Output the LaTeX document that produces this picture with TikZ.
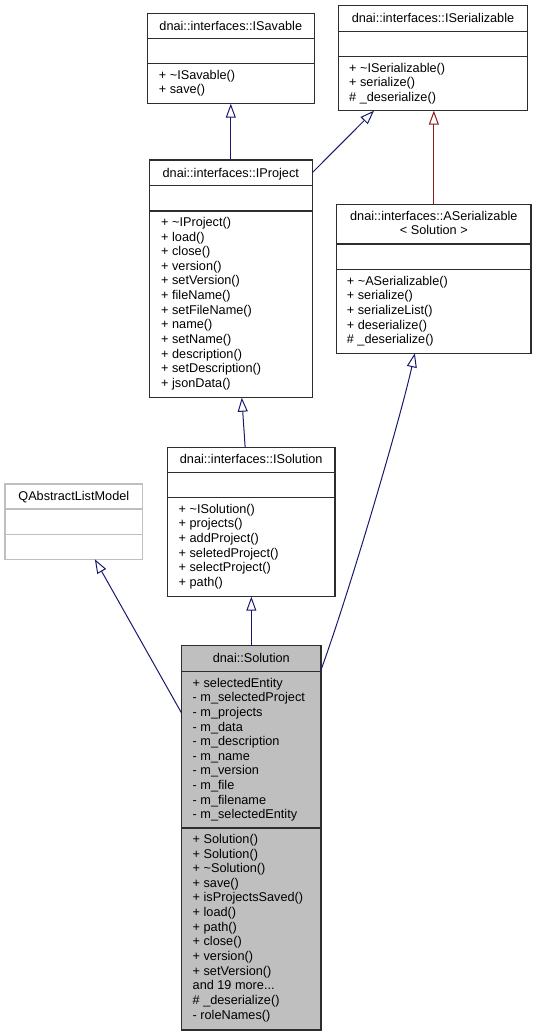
\documentclass[tikz,border=0pt]{standalone}
\usepackage{fontspec}
\setmainfont{Liberation Sans}
\usetikzlibrary{arrows.meta,fit,calc}
\newcommand\clsfont{\fontsize{12.75}{14.7}\selectfont}
\definecolor{edgeblue}{RGB}{25,25,112}
\definecolor{edgered}{RGB}{139,26,26}
\definecolor{grayfill}{RGB}{191,191,191}
\definecolor{boxline}{RGB}{45,45,45}
\begin{document}
\begin{tikzpicture}[x=1bp,y=-1bp,
  classbox/.style={draw=boxline,line width=1.3bp,inner sep=0pt,outer sep=0pt},
  sepline/.style={draw=boxline,line width=1.3bp},
  gsepline/.style={draw=grayfill,line width=1.3bp},
  ttl/.style={anchor=base,font=\clsfont,inner sep=0pt},
  ttltwo/.style={anchor=north,align=center,font=\clsfont,inner sep=0pt,execute at begin node=\strut},
  mem/.style={anchor=north west,align=left,font=\clsfont,inner sep=0pt,execute at begin node=\strut},
  inh/.style={draw=edgeblue,line width=1bp,-{Triangle[open,length=14bp,width=10bp]}},
  inhred/.style={inh,draw=edgered},
]
\useasboundingbox (0,0) rectangle (537,1036);

% ---------- boxes ----------
\node[classbox,fit={(147.3,13.3) (314.3,103.7)}] (savable) {};
\node[classbox,fit={(338.3,5.7) (527.7,110.7)}] (serial) {};
\node[classbox,fit={(149.3,160) (312.3,397.7)}] (project) {};
\node[classbox,fit={(336.7,204.3) (531,353.3)}] (aser) {};
\node[classbox,fit={(167.3,447.3) (335,596.7)}] (isol) {};
\node[classbox,draw=grayfill,fit={(5,484) (142.7,559.3)}] (qalm) {};
\node[classbox,fill=grayfill,fit={(181.7,645.7) (321,1030)}] (solution) {};

% ---------- compartment separators ----------
\draw[sepline] (147.3,38.3) -- (314.3,38.3);
\draw[sepline] (147.3,63.7) -- (314.3,63.7);
\draw[sepline] (338.3,31.7) -- (527.7,31.7);
\draw[sepline] (338.3,56.7) -- (527.7,56.7);
\draw[sepline] (149.3,185.7) -- (312.3,185.7);
\draw[sepline] (149.3,211) -- (312.3,211);
\draw[sepline] (336.7,244) -- (531,244);
\draw[sepline] (336.7,269.7) -- (531,269.7);
\draw[sepline] (167.3,472.3) -- (335,472.3);
\draw[sepline] (167.3,497.7) -- (335,497.7);
\draw[gsepline] (5,509) -- (142.7,509);
\draw[gsepline] (5,534.3) -- (142.7,534.3);
\draw[sepline] (181.7,671.7) -- (321,671.7);
\draw[sepline] (181.7,828) -- (321,828);

% ---------- texts ----------
\node[ttl] (savable-t) at (230.8,30) {dnai::interfaces::ISavable};
\node[mem] (savable-m) at (158.7,69.7) {+ \textasciitilde ISavable()\\+ save()};

\node[ttl] (serial-t) at (433,22.5) {dnai::interfaces::ISerializable};
\node[mem] (serial-m) at (349,62.7) {+ \textasciitilde ISerializable()\\+ serialize()\\\# \_deserialize()};

\node[ttl] (project-t) at (230.8,177) {dnai::interfaces::IProject};
\node[mem] (project-m) at (161,217) {+ \textasciitilde IProject()\\+ load()\\+ close()\\+ version()\\+ setVersion()\\+ fileName()\\+ setFileName()\\+ name()\\+ setName()\\+ description()\\+ setDescription()\\+ jsonData()};

\node[ttltwo] (aser-t) at (433.85,210.7) {dnai::interfaces::ASerializable\\< Solution >};
\node[mem] (aser-m) at (346.7,275.7) {+ \textasciitilde ASerializable()\\+ serialize()\\+ serializeList()\\+ deserialize()\\\# \_deserialize()};

\node[ttl] (isol-t) at (251.2,463.8) {dnai::interfaces::ISolution};
\node[mem] (isol-m) at (178.5,503.7) {+ \textasciitilde ISolution()\\+ projects()\\+ addProject()\\+ seletedProject()\\+ selectProject()\\+ path()};

\node[ttl] (qalm-t) at (73.8,500.5) {QAbstractListModel};

\node[ttl] (solution-t) at (251.3,662.5) {dnai::Solution};
\node[mem] (solution-a) at (192.5,677.7) {+ selectedEntity\\- m\_selectedProject\\- m\_projects\\- m\_data\\- m\_description\\- m\_name\\- m\_version\\- m\_file\\- m\_filename\\- m\_selectedEntity};
\node[mem] (solution-m) at (192.5,834) {+ Solution()\\+ Solution()\\+ \textasciitilde Solution()\\+ save()\\+ isProjectsSaved()\\+ load()\\+ path()\\+ close()\\+ version()\\+ setVersion()\\and 19 more...\\\# \_deserialize()\\- roleNames()};

% ---------- inheritance connectors ----------
\draw[inh] (project.north) -- (savable.south);
\draw[inh] ($(project.north east)+(0,12.7)$) -- ($(serial.south west)+(35.7,0)$);
\draw[inhred] (aser.north) -- (aser.north |- serial.south);
\draw[inh] ($(isol.north)+(-6,0)$) -- ($(project.south)+(11,0)$);
\draw[inh] (solution.north) -- (solution.north |- isol.south);
\draw[inh] ($(solution.north west)+(0,67.6)$) -- ($(qalm.south)+(21,0)$);
\draw[inh] ($(solution.north east)+(0,24.3)$) .. controls (350,590) and (400,420) .. ($(aser.south)+(-19,0)$);
\end{tikzpicture}
\end{document}
